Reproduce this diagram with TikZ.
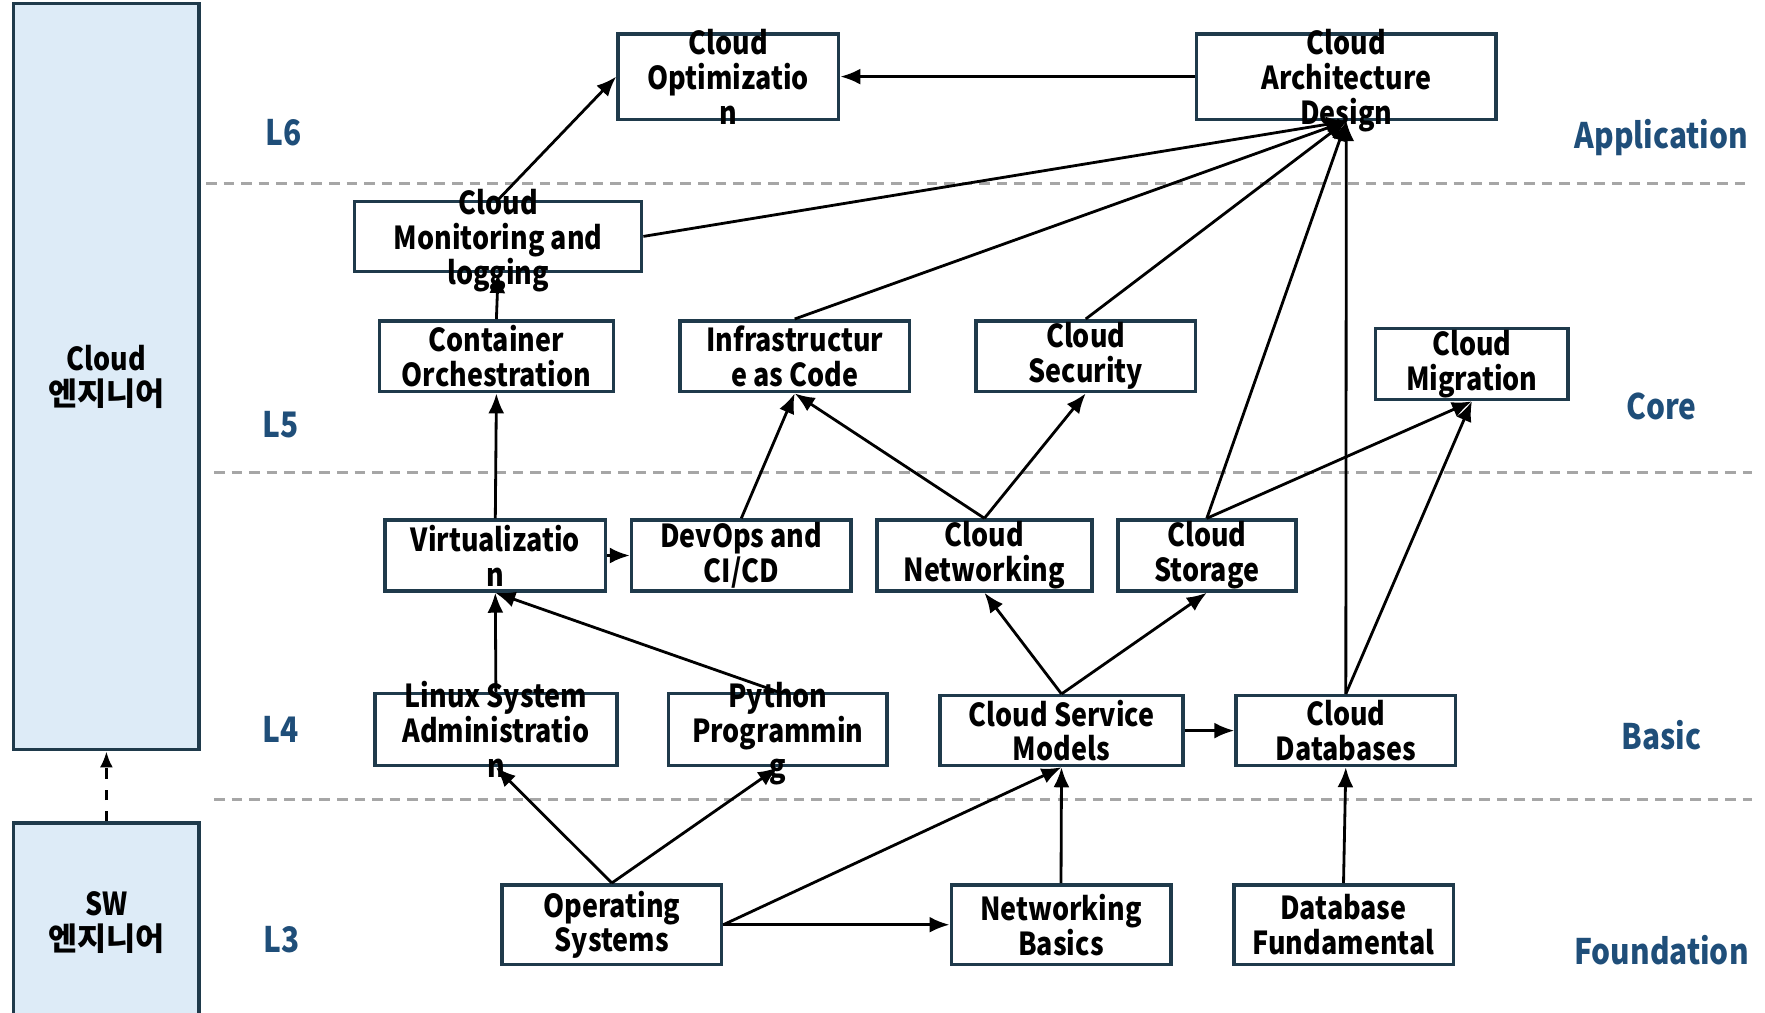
\documentclass[tikz,border=0pt]{standalone}
\usepackage{fontspec}
\setmainfont{Noto Sans CJK KR}[FakeStretch=0.85]
\newfontfamily\kofont{Noto Sans CJK KR}
\usepackage{xcolor}
\usepackage{tikz}
\usetikzlibrary{arrows.meta,positioning,calc}

\definecolor{boxline}{HTML}{1F3A4B}
\definecolor{lvlblue}{HTML}{1F4E79}
\definecolor{rolefill}{HTML}{DDEBF7}
\definecolor{sepgray}{HTML}{A6A6A6}

\tikzset{
  skill/.style n args={2}{draw=boxline, line width=1pt, fill=white, minimum width=#1cm, minimum height=#2cm, inner sep=0pt},
  skilltxt/.style={font=\bfseries\fontsize{9}{9.9}\selectfont, align=center, inner sep=0pt},
  role/.style={draw=boxline, line width=1pt, fill=rolefill, minimum width=1.857cm, align=center, font=\bfseries\fontsize{9}{9.9}\selectfont},
  lvl/.style={text=lvlblue, font=\bfseries\fontsize{10}{12}\selectfont},
  dep/.style={-{Latex[length=2mm,width=1.6mm]}, line width=0.8pt},
  sep/.style={sepgray, line width=0.9pt, dash pattern=on 3pt off 2pt}
}

\begin{document}
\begin{tikzpicture}
    \useasboundingbox (0,0) rectangle (17.65,10.12);

    % roles
    \node[role, minimum height=7.463cm] (cloudeng) at (1.064,6.355) {Cloud\\{\kofont 엔지니어}};
    \node[role, minimum height=2.0cm] (sweng) at (1.064,0.891) {SW\\{\kofont 엔지니어}};
    \draw[dep, dashed, -{Latex[length=1.6mm,width=1.3mm]}] (sweng.north) -- (cloudeng.south);

    % levels
    \draw[sep] (2.06,8.285) -- (17.48,8.285);
    \draw[sep] (2.14,5.392) -- (17.52,5.392);
    \draw[sep] (2.14,2.128) -- (17.52,2.128);
    \node[lvl] (l6) at (2.837,8.792) {L6};
    \node[lvl] (l5) at (2.803,5.876) {L5};
    \node[lvl] (l4) at (2.803,2.826) {L4};
    \node[lvl] (l3) at (2.814,0.720) {L3};
    \node[lvl] (app) at (16.615,8.747) {Application};
    \node[lvl] (core) at (16.615,6.056) {Core};
    \node[lvl] (basic) at (16.615,2.769) {Basic};
    \node[lvl] (found) at (16.615,0.619) {Foundation};

    % L6
    \node[skill={2.206}{0.856}] (opt) at (7.283,9.354) {};
    \node[skilltxt] (opt-t) at (opt) {Cloud\\Optimizatio\\n};
    \node[skill={2.994}{0.856}] (arch) at (13.463,9.354) {};
    \node[skilltxt, yshift=-0.04cm] (arch-t) at (arch) {Cloud\\Architecture\\Design};

    % L5
    \node[skill={2.870}{0.698}] (mon) at (4.981,7.756) {};
    \node[skilltxt, yshift=-0.04cm] (mon-t) at (mon) {Cloud\\Monitoring and\\logging};
    \node[skill={2.341}{0.709}] (cont) at (4.964,6.558) {};
    \node[skilltxt] (cont-t) at (cont) {Container\\Orchestration};
    \node[skill={2.296}{0.709}] (iac) at (7.947,6.558) {};
    \node[skilltxt] (iac-t) at (iac) {Infrastructur\\e as Code};
    \node[skill={2.195}{0.709}] (sec) at (10.857,6.558) {};
    \node[skilltxt] (sec-t) at (sec) {Cloud\\Security};
    \node[skill={1.925}{0.709}] (mig) at (14.719,6.479) {};
    \node[skilltxt] (mig-t) at (mig) {Cloud\\Migration};

    \node[skill={2.206}{0.709}] (virt) at (4.953,4.565) {};
    \node[skilltxt] (virt-t) at (virt) {Virtualizatio\\n};
    \node[skill={2.195}{0.709}] (devops) at (7.413,4.565) {};
    \node[skilltxt] (devops-t) at (devops) {DevOps and\\CI/CD};
    \node[skill={2.150}{0.709}] (net) at (9.844,4.565) {};
    \node[skilltxt] (net-t) at (net) {Cloud\\Networking};
    \node[skill={1.779}{0.709}] (stor) at (12.068,4.565) {};
    \node[skilltxt] (stor-t) at (stor) {Cloud\\Storage};

    % L4
    \node[skill={2.420}{0.720}] (linux) at (4.959,2.825) {};
    \node[skilltxt] (linux-t) at (linux) {Linux System\\Administratio\\n};
    \node[skill={2.184}{0.720}] (py) at (7.779,2.825) {};
    \node[skilltxt, yshift=-0.04cm] (py-t) at (py) {Python\\Programmin\\g};
    \node[skill={2.432}{0.698}] (csm) at (10.615,2.814) {};
    \node[skilltxt] (csm-t) at (csm) {Cloud Service\\Models};
    \node[skill={2.195}{0.698}] (db) at (13.458,2.814) {};
    \node[skilltxt] (db-t) at (db) {Cloud\\Databases};

    % L3
    \node[skill={2.195}{0.799}] (os) at (6.118,0.873) {};
    \node[skilltxt] (os-t) at (os) {Operating\\Systems};
    \node[skill={2.195}{0.799}] (nb) at (10.610,0.873) {};
    \node[skilltxt] (nb-t) at (nb) {Networking\\Basics};
    \node[skill={2.195}{0.799}] (dbf) at (13.435,0.873) {};
    \node[skilltxt] (dbf-t) at (dbf) {Database\\Fundamental};

    % dependencies
    \draw[dep] (arch.west) -- (opt.east);
    \draw[dep] (mon.north) -- (opt.west);
    \draw[dep] (mon.east) -- (arch.south);
    \draw[dep] (iac.north) -- (arch.south);
    \draw[dep] (sec.north) -- (arch.south);
    \draw[dep] (stor.north) -- (arch.south);
    \draw[dep] (db.north) -- (arch.south);
    \draw[dep] (cont.north) -- (mon.south);
    \draw[dep] (virt.north) -- (cont.south);
    \draw[dep] (virt.east) -- (devops.west);
    \draw[dep] (devops.north) -- (iac.south);
    \draw[dep] (net.north) -- (iac.south);
    \draw[dep] (net.north) -- (sec.south);
    \draw[dep] (stor.north) -- (mig.south);
    \draw[dep] (db.north) -- (mig.south);
    \draw[dep] (linux.north) -- (virt.south);
    \draw[dep] (py.north) -- (virt.south);
    \draw[dep] (csm.north) -- (net.south);
    \draw[dep] (csm.north) -- (stor.south);
    \draw[dep] (csm.east) -- (db.west);
    \draw[dep] (os.north) -- (linux.south);
    \draw[dep] (os.north) -- (py.south);
    \draw[dep] (os.east) -- (csm.south);
    \draw[dep] (os.east) -- (nb.west);
    \draw[dep] (nb.north) -- (csm.south);
    \draw[dep] (dbf.north) -- (db.south);
\end{tikzpicture}
\end{document}
